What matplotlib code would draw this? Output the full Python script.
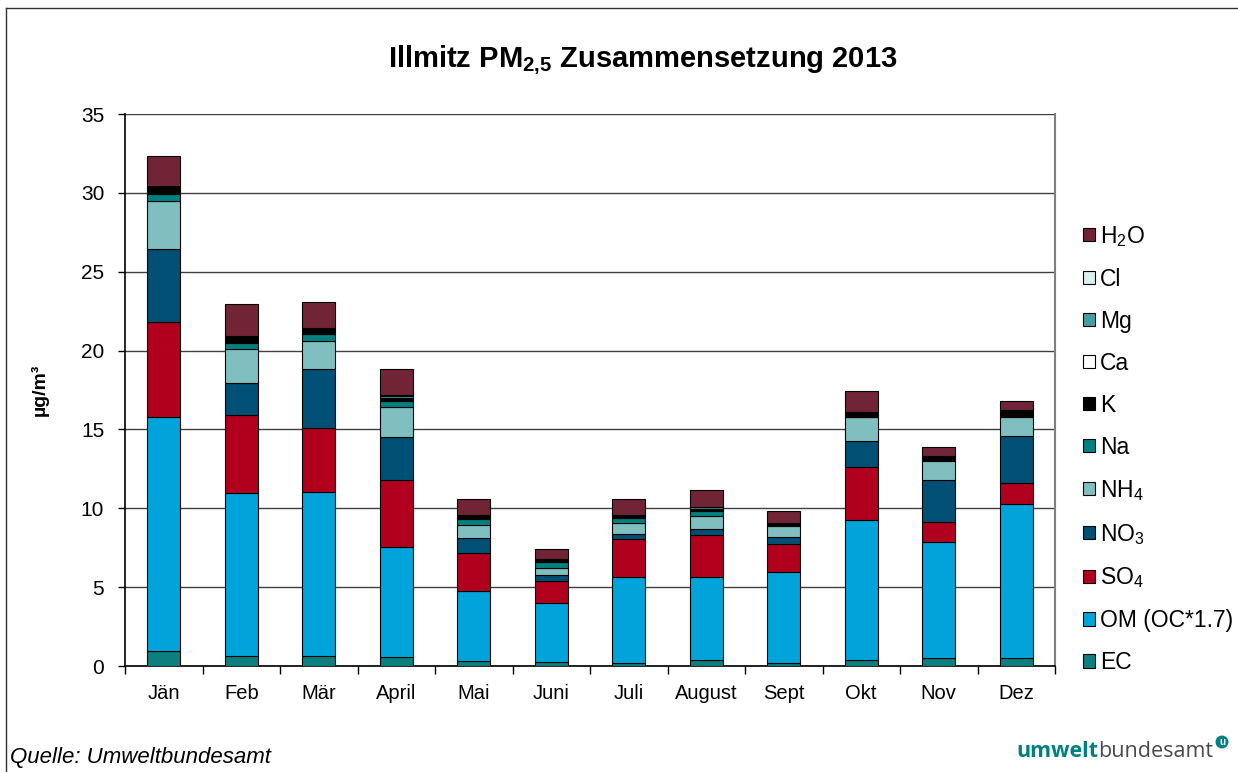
import numpy as np
import matplotlib as mpl
import matplotlib.pyplot as plt
from matplotlib.patches import Patch
from matplotlib.lines import Line2D

plt.rcParams['font.family'] = ['Liberation Sans', 'DejaVu Sans']
plt.rcParams['mathtext.fontset'] = 'custom'
plt.rcParams['mathtext.rm'] = 'Liberation Sans'
plt.rcParams['mathtext.bf'] = 'Liberation Sans:bold'
plt.rcParams['mathtext.default'] = 'regular'

# monthly composition, values in µg/m³ (bottom to top of the stack)
months = ['Jän', 'Feb', 'Mär', 'April', 'Mai', 'Juni', 'Juli', 'August', 'Sept', 'Okt', 'Nov', 'Dez']
EC = [0.96, 0.61, 0.65, 0.57, 0.30, 0.25, 0.21, 0.36, 0.21, 0.38, 0.49, 0.49]
OM = [14.82, 10.34, 10.41, 6.96, 4.48, 3.77, 5.44, 5.27, 5.73, 8.86, 7.35, 9.78]
SO4 = [6.06, 4.98, 4.00, 4.27, 2.41, 1.37, 2.39, 2.68, 1.78, 3.39, 1.31, 1.31]
NO3 = [4.61, 2.01, 3.75, 2.73, 0.91, 0.41, 0.30, 0.36, 0.47, 1.61, 2.64, 3.00]
NH4 = [3.01, 2.16, 1.81, 1.87, 0.83, 0.42, 0.71, 0.85, 0.67, 1.52, 1.21, 1.22]
Na = [0.45, 0.40, 0.42, 0.42, 0.40, 0.38, 0.33, 0.32, 0.05, 0.05, 0.05, 0.05]
K = [0.35, 0.35, 0.25, 0.15, 0.06, 0.08, 0.06, 0.07, 0.13, 0.25, 0.22, 0.30]
Ca = [0.05, 0.03, 0.05, 0.05, 0.08, 0.03, 0.06, 0.06, 0.02, 0.02, 0.02, 0.02]
Mg = [0.05, 0.03, 0.06, 0.08, 0.06, 0.06, 0.06, 0.08, 0.02, 0.02, 0.02, 0.03]
Cl = [0.08, 0.04, 0.05, 0.06, 0.03, 0.02, 0.02, 0.03, 0.01, 0.02, 0.02, 0.02]
H2O = [1.87, 1.98, 1.64, 1.69, 1.00, 0.61, 0.98, 1.07, 0.73, 1.31, 0.53, 0.60]

series = [
    ('EC', EC, '#0e7f7f'),
    ('OM (OC*1.7)', OM, '#00a3da'),
    ('SO$_4$', SO4, '#b0001e'),
    ('NO$_3$', NO3, '#004f74'),
    ('NH$_4$', NH4, '#80bfbf'),
    ('Na', Na, '#008080'),
    ('K', K, '#000000'),
    ('Ca', Ca, '#ffffff'),
    ('Mg', Mg, '#40a0a0'),
    ('Cl', Cl, '#d8f0f0'),
    ('H$_2$O', H2O, '#722437'),
]

fig = plt.figure(figsize=(12.38, 7.72), dpi=100)
ax = fig.add_axes([125 / 1238, 1 - 666 / 772, (1055 - 125) / 1238, 552 / 772])

x = np.arange(len(months))
bottom = np.zeros(len(months))
handles = []
for name, vals, col in series:
    ax.bar(x, vals, width=0.42, bottom=bottom, color=col, edgecolor='black', linewidth=0.8, zorder=3)
    bottom += np.array(vals)
    handles.append(Patch(facecolor=col, edgecolor='black', linewidth=0.8, label=name))

# axes, gridlines, ticks
ax.set_xlim(-0.5, len(months) - 0.5)
ax.set_ylim(0, 35)
ax.set_yticks(np.arange(0, 36, 5))
ax.yaxis.grid(True, color='#404040', linewidth=1.0, zorder=0)
ax.set_axisbelow(True)
ax.set_xticks(x)
ax.set_xticklabels(months, fontsize=14.5)
ax.set_xticks(np.arange(-0.5, len(months)), minor=True)
ax.tick_params(axis='x', which='major', length=0, pad=13)
ax.tick_params(axis='x', which='minor', length=6, width=1, direction='out')
ax.tick_params(axis='y', labelsize=15, length=5, width=1, direction='out', pad=10)
ax.spines['top'].set_visible(False)
ax.spines['right'].set_color('#808080')
ax.spines['right'].set_linewidth(1.5)
ax.spines['left'].set_linewidth(1.2)
ax.spines['bottom'].set_linewidth(1.2)
ax.set_ylabel('µg/m³', fontsize=14, fontweight='bold')
ax.yaxis.set_label_coords(-0.082, 0.5)

ax.legend(handles=handles[::-1], loc='center left', bbox_to_anchor=(1.02, 0.393), frameon=False,
          fontsize=16.5, handlelength=0.55, handleheight=0.55, handletextpad=0.2, labelspacing=0.83,
          borderaxespad=0)

fig.text(643 / 1238, 1 - 60 / 772, r'Illmitz PM$\mathbf{_{2{,}5}}$ Zusammensetzung 2013', ha='center',
         va='center', fontsize=21, fontweight='bold')
fig.text(10 / 1238, 1 - 763 / 772, 'Quelle: Umweltbundesamt', fontsize=16, style='italic', va='baseline')

# logo text
fig.canvas.draw()
renderer = fig.canvas.get_renderer()
t2 = fig.text(1213 / 1238, 1 - 757 / 772, 'bundesamt', fontsize=15.5, color='#4a4a4a',
              family='Open Sans', ha='right', va='baseline')
bb = t2.get_window_extent(renderer=renderer).transformed(fig.transFigure.inverted())
fig.text(bb.x0, 1 - 757 / 772, 'umwelt', fontsize=15.5, color='#00807f', family='Open Sans',
         fontweight='bold', ha='right', va='baseline')
fig.text(1222 / 1238, 1 - 742 / 772, 'u', fontsize=7, color='white', fontweight='bold', ha='center',
         va='center', bbox=dict(boxstyle='circle,pad=0.15', fc='#00807f', ec='none'))

# outer frame (left and top edges)
fig.add_artist(Line2D([6 / 1238, 6 / 1238], [0, 1 - 8 / 772], transform=fig.transFigure, color='#303030', lw=1))
fig.add_artist(Line2D([6 / 1238, 1], [1 - 8 / 772, 1 - 8 / 772], transform=fig.transFigure, color='#303030', lw=1))

plt.savefig('out.png', dpi=100)
